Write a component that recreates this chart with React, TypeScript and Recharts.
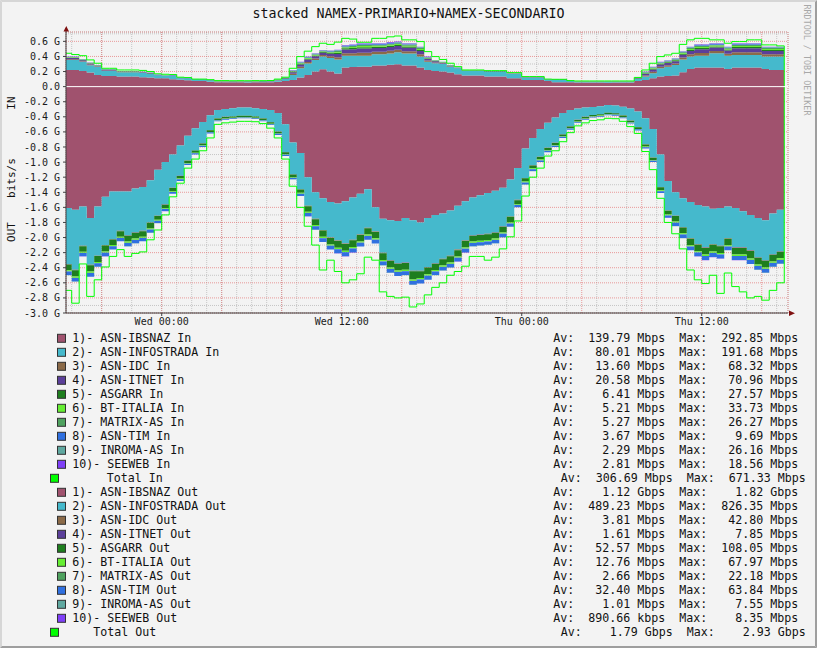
import React from 'react';
import { ComposedChart, Area, Line, XAxis, YAxis, CartesianGrid, ReferenceLine } from 'recharts';

// ---------- time axis (hours relative to Wed 00:00, 30-minute steps) ----------
const hours: number[] = Array.from({ length: 96 }, (_, i) => -6.5 + i * 0.5);
const endHour = 41.5;
const xDomain: [number, number] = [-6.38, 41.75];
const xLabelHours = [0, 12, 24, 36];
const xLabels = ['Wed 00:00', 'Wed 12:00', 'Thu 00:00', 'Thu 12:00'];
const xMajorHours = [-4, 0, 4, 8, 12, 16, 20, 24, 28, 32, 36, 40];
const xMinorHours = Array.from({ length: 48 }, (_, i) => i - 6);

// ---------- value axis (Mbps) ----------
const yDomain: [number, number] = [-3000, 724];
const yMajorTicks = [-3000, -2800, -2600, -2400, -2200, -2000, -1800, -1600, -1400, -1200, -1000, -800, -600, -400, -200, 0, 200, 400, 600];
const yMinorTicks = Array.from({ length: 38 }, (_, i) => -3000 + i * 100);

// ---------- series names / colours ----------
const seriesNames = ['ASN-IBSNAZ', 'ASN-INFOSTRADA', 'ASN-IDC', 'ASN-ITNET', 'ASGARR', 'BT-ITALIA', 'MATRIX-AS', 'ASN-TIM', 'INROMA-AS', 'SEEWEB'];
const seriesColors = ['#A0526E', '#45B9CC', '#8B6A48', '#5B3F9A', '#1E7E1E', '#66EE33', '#4FA25F', '#3070E0', '#5FA8A0', '#7F40F8'];
const totalColor = '#00FF00';

// ---------- IN values (Mbps) ----------
const inIbsnaz = [
  221, 221, 208, 186, 155, 142, 142, 133, 133, 133,
  125, 120, 110, 110, 97, 90, 84, 75, 75, 66,
  58, 58, 57, 58, 56, 57, 58, 59, 65, 75,
  88, 120, 155, 200, 230, 200, 175, 252, 260, 265,
  265, 279, 279, 290, 296, 279, 279, 252, 221, 208,
  200, 186, 164, 146, 146, 146, 133, 133, 133, 110,
  110, 88, 88, 88, 75, 58, 58, 58, 55, 55,
  54, 55, 53, 54, 55, 56, 75, 88, 110, 133,
  140, 146, 190, 235, 252, 252, 252, 252, 235, 252,
  252, 252, 252, 235, 221, 221,
];
const inInfostrada = [
  133, 133, 122, 99, 110, 66, 66, 57, 57, 57,
  60, 48, 40, 36, 43, 20, 26, 22, 22, 19,
  8, 8, 8, 8, 9, 9, 9, 9, 15, 25,
  67, 123, 150, 154, 168, 180, 185, 158, 150, 145,
  145, 151, 151, 150, 160, 159, 159, 146, 109, 102,
  100, 79, 79, 66, 66, 66, 67, 67, 67, 58,
  58, 32, 32, 32, 13, 30, 30, 17, 11, 11,
  12, 11, 13, 12, 11, 10, 25, 45, 67, 110,
  125, 142, 170, 163, 158, 158, 190, 190, 175, 168,
  168, 168, 168, 163, 177, 177,
];
const inIdc = [
  10, 10, 8, 8, 5, 6, 6, 4, 4, 4,
  3, 4, 2, 2, 2, 2, 2, 1, 1, 1,
  2, 2, 2, 2, 2, 2, 2, 2, 3, 5,
  15, 20, 22, 20, 20, 23, 30, 33, 34, 38,
  38, 33, 33, 34, 32, 31, 31, 30, 15, 10,
  7, 5, 2, 2, 2, 2, 2, 2, 2, 2,
  2, 3, 3, 3, 2, 2, 2, 1, 1, 1,
  1, 1, 1, 1, 1, 1, 5, 15, 20, 20,
  19, 20, 25, 30, 35, 35, 30, 30, 27, 35,
  35, 35, 35, 30, 30, 30,
];
const inItnet = [
  15, 15, 13, 12, 8, 9, 9, 6, 6, 6,
  5, 6, 4, 3, 4, 4, 4, 1, 1, 2,
  3, 3, 3, 3, 3, 3, 3, 3, 5, 7,
  22, 30, 33, 30, 31, 34, 44, 49, 52, 57,
  57, 50, 50, 52, 49, 47, 47, 45, 23, 15,
  10, 8, 3, 3, 3, 3, 3, 3, 3, 3,
  3, 4, 4, 4, 3, 3, 3, 2, 1, 1,
  1, 1, 1, 1, 1, 1, 7, 23, 30, 30,
  29, 30, 38, 45, 52, 52, 46, 46, 41, 53,
  53, 53, 53, 45, 45, 45,
];
const inAsgarr = [
  5, 5, 4, 4, 3, 3, 3, 2, 2, 2,
  2, 2, 1, 1, 1, 1, 1, 0, 0, 1,
  1, 1, 1, 1, 1, 1, 1, 1, 2, 2,
  7, 9, 10, 10, 10, 11, 14, 15, 16, 18,
  18, 16, 16, 16, 15, 15, 15, 14, 7, 5,
  3, 3, 1, 1, 1, 1, 1, 1, 1, 1,
  1, 2, 2, 2, 1, 1, 1, 1, 1, 1,
  1, 1, 1, 1, 1, 1, 2, 7, 10, 9,
  9, 10, 12, 14, 16, 16, 14, 14, 13, 17,
  17, 17, 17, 14, 14, 14,
];
const inBtItalia = [
  4, 4, 3, 3, 2, 3, 3, 2, 2, 2,
  1, 2, 1, 1, 1, 1, 1, 0, 0, 0,
  1, 1, 1, 1, 1, 1, 1, 1, 1, 2,
  6, 8, 8, 8, 8, 9, 11, 12, 13, 14,
  14, 13, 13, 13, 12, 12, 12, 12, 6, 4,
  3, 2, 1, 1, 1, 1, 1, 1, 1, 1,
  1, 1, 1, 1, 1, 1, 1, 0, 0, 0,
  0, 0, 0, 0, 0, 0, 2, 6, 8, 8,
  8, 8, 10, 12, 13, 13, 12, 12, 11, 14,
  14, 14, 14, 12, 12, 12,
];
const inMatrix = [
  4, 4, 3, 3, 2, 2, 2, 2, 2, 2,
  2, 2, 1, 1, 1, 1, 1, 1, 1, 1,
  1, 1, 1, 1, 1, 1, 1, 1, 2, 2,
  6, 8, 8, 8, 8, 9, 12, 13, 13, 14,
  14, 13, 13, 13, 12, 12, 12, 12, 6, 4,
  3, 2, 1, 1, 1, 1, 1, 1, 1, 1,
  1, 1, 1, 1, 1, 1, 1, 1, 1, 1,
  1, 1, 1, 1, 1, 1, 2, 6, 8, 8,
  8, 8, 10, 12, 14, 14, 12, 12, 11, 14,
  14, 14, 14, 12, 12, 12,
];
const inTim = [
  3, 3, 2, 2, 1, 2, 2, 1, 1, 1,
  1, 1, 1, 1, 1, 1, 1, 0, 0, 0,
  1, 1, 0, 0, 0, 1, 0, 0, 1, 1,
  4, 5, 6, 5, 5, 6, 8, 9, 9, 10,
  10, 9, 9, 9, 9, 8, 8, 8, 4, 3,
  2, 1, 1, 1, 1, 1, 0, 0, 0, 1,
  1, 1, 1, 1, 1, 1, 1, 0, 0, 0,
  0, 0, 0, 0, 0, 0, 1, 4, 5, 5,
  5, 5, 7, 8, 9, 9, 8, 8, 7, 9,
  9, 9, 9, 8, 8, 8,
];
const inInroma = [
  1, 1, 2, 1, 1, 1, 1, 0, 0, 0,
  0, 0, 0, 0, 0, 0, 0, 0, 0, 0,
  0, 0, 0, 0, 0, 0, 0, 0, 0, 0,
  2, 3, 4, 3, 3, 4, 5, 5, 6, 6,
  6, 5, 5, 6, 5, 5, 5, 5, 3, 1,
  1, 1, 0, 0, 0, 0, 0, 0, 0, 0,
  0, 0, 0, 0, 0, 0, 0, 0, 0, 0,
  0, 0, 0, 0, 0, 0, 0, 3, 3, 3,
  3, 3, 4, 5, 6, 6, 5, 5, 5, 6,
  6, 6, 6, 5, 5, 5,
];
const inSeeweb = [
  2, 2, 2, 2, 1, 1, 1, 1, 1, 1,
  1, 1, 0, 0, 0, 0, 0, 0, 0, 0,
  0, 0, 0, 0, 0, 0, 0, 0, 0, 1,
  3, 4, 4, 4, 4, 4, 6, 7, 7, 8,
  8, 6, 6, 7, 7, 7, 7, 6, 4, 2,
  1, 1, 0, 0, 0, 0, 0, 0, 0, 0,
  0, 1, 1, 1, 0, 0, 0, 0, 0, 0,
  0, 0, 0, 0, 0, 0, 1, 3, 4, 4,
  4, 4, 4, 6, 7, 7, 6, 6, 5, 7,
  7, 7, 7, 6, 6, 6,
];
const inTotal = [
  442, 425, 410, 354, 310, 243, 243, 221, 221, 221,
  215, 200, 170, 164, 160, 125, 120, 100, 100, 92,
  80, 80, 78, 79, 78, 80, 79, 81, 100, 125,
  243, 398, 470, 530, 575, 560, 590, 640, 630, 588,
  588, 640, 640, 660, 671, 620, 620, 597, 464, 398,
  360, 310, 265, 221, 221, 221, 212, 212, 212, 186,
  186, 133, 133, 133, 100, 97, 97, 80, 75, 75,
  75, 75, 75, 75, 75, 75, 122, 221, 310, 398,
  420, 442, 560, 620, 640, 640, 620, 620, 575, 597,
  597, 620, 620, 553, 553, 540,
];

// ---------- OUT values (Mbps, drawn downward) ----------
const outIbsnaz = [
  1610, 1630, 1590, 1740, 1590, 1460, 1390, 1390, 1390, 1350,
  1330, 1240, 1100, 1000, 900, 780, 650, 550, 470, 380,
  310, 295, 285, 275, 275, 285, 295, 310, 350, 500,
  740, 880, 1200, 1400, 1480, 1530, 1550, 1520, 1470, 1420,
  1360, 1600, 1750, 1770, 1780, 1740, 1770, 1800, 1740, 1700,
  1680, 1640, 1580, 1520, 1470, 1440, 1410, 1380, 1340, 1230,
  1080, 820, 680, 560, 480, 410, 350, 310, 290, 275,
  270, 260, 245, 250, 265, 290, 330, 420, 560, 900,
  1250, 1400, 1480, 1530, 1570, 1590, 1620, 1610, 1590, 1610,
  1650, 1700, 1740, 1770, 1680, 1630,
];
const outInfostrada = [
  740, 796, 520, 620, 650, 640, 630, 520, 580, 580,
  580, 560, 610, 560, 440, 400, 330, 295, 280, 195,
  110, 105, 110, 110, 110, 110, 125, 160, 245, 365,
  420, 480, 380, 350, 420, 470, 490, 560, 560, 540,
  510, 320, 450, 530, 560, 590, 670, 640, 650, 640,
  600, 600, 580, 520, 500, 520, 540, 550, 510, 490,
  420, 390, 360, 370, 330, 335, 280, 215, 150, 125,
  105, 105, 100, 100, 115, 160, 205, 345, 380, 430,
  390, 310, 380, 480, 520, 540, 470, 500, 420, 520,
  480, 470, 520, 530, 540, 550,
];
const outIdc = [
  4, 5, 4, 5, 4, 4, 4, 4, 4, 4,
  4, 4, 4, 3, 3, 2, 2, 2, 2, 2,
  1, 1, 1, 1, 1, 1, 1, 1, 2, 2,
  2, 3, 4, 4, 5, 5, 5, 5, 5, 5,
  5, 5, 5, 5, 5, 5, 5, 5, 5, 5,
  5, 5, 5, 5, 4, 4, 4, 4, 4, 4,
  4, 3, 3, 2, 2, 2, 2, 2, 1, 1,
  1, 1, 1, 1, 1, 1, 2, 2, 2, 3,
  4, 4, 4, 5, 5, 5, 5, 5, 5, 5,
  5, 5, 5, 5, 5, 5,
];
const outItnet = [
  2, 2, 1, 2, 2, 2, 1, 1, 2, 2,
  1, 1, 1, 1, 1, 1, 1, 1, 1, 1,
  1, 1, 1, 1, 1, 1, 1, 1, 1, 1,
  1, 1, 1, 2, 2, 2, 2, 2, 2, 2,
  2, 2, 2, 2, 2, 2, 2, 2, 2, 2,
  2, 2, 2, 2, 2, 2, 2, 2, 2, 1,
  1, 1, 1, 1, 1, 1, 1, 1, 1, 1,
  1, 1, 1, 1, 1, 1, 1, 1, 1, 1,
  1, 1, 2, 2, 2, 2, 2, 2, 2, 2,
  2, 2, 2, 2, 2, 2,
];
const outAsgarr = [
  78, 84, 74, 84, 78, 78, 74, 74, 78, 78,
  74, 74, 49, 44, 39, 34, 30, 27, 25, 22,
  20, 20, 17, 17, 17, 17, 20, 20, 22, 27,
  34, 44, 74, 78, 84, 84, 89, 89, 89, 84,
  84, 84, 89, 89, 89, 89, 108, 89, 89, 84,
  84, 84, 84, 84, 78, 78, 78, 78, 78, 74,
  49, 44, 39, 34, 30, 27, 25, 22, 20, 20,
  17, 17, 17, 17, 20, 20, 22, 27, 30, 39,
  49, 74, 78, 84, 84, 89, 89, 89, 84, 89,
  89, 100, 89, 89, 89, 89,
];
const outBtItalia = [
  14, 15, 13, 15, 14, 14, 13, 13, 14, 14,
  13, 13, 12, 11, 10, 9, 7, 6, 6, 5,
  5, 5, 4, 4, 4, 4, 5, 5, 5, 6,
  9, 11, 13, 14, 15, 15, 17, 17, 17, 15,
  15, 15, 17, 17, 17, 17, 17, 17, 17, 15,
  15, 15, 15, 15, 14, 14, 14, 14, 14, 13,
  12, 11, 10, 9, 7, 6, 6, 5, 5, 5,
  4, 4, 4, 4, 5, 5, 5, 6, 7, 10,
  12, 13, 14, 15, 15, 17, 17, 17, 15, 17,
  17, 17, 17, 17, 17, 17,
];
const outMatrix = [
  3, 3, 3, 3, 3, 3, 3, 3, 3, 3,
  3, 3, 2, 2, 2, 2, 1, 1, 1, 1,
  1, 1, 1, 1, 1, 1, 1, 1, 1, 1,
  2, 2, 3, 3, 3, 3, 3, 3, 3, 3,
  3, 3, 3, 3, 3, 3, 3, 3, 3, 3,
  3, 3, 3, 3, 3, 3, 3, 3, 3, 3,
  2, 2, 2, 2, 1, 1, 1, 1, 1, 1,
  1, 1, 1, 1, 1, 1, 1, 1, 1, 2,
  2, 3, 3, 3, 3, 3, 3, 3, 3, 3,
  3, 3, 3, 3, 3, 3,
];
const outTim = [
  46, 49, 43, 49, 46, 46, 43, 43, 46, 46,
  43, 43, 30, 27, 24, 21, 18, 17, 15, 14,
  12, 12, 11, 11, 11, 11, 12, 12, 14, 17,
  21, 27, 43, 46, 49, 49, 52, 52, 52, 49,
  49, 49, 52, 52, 52, 52, 52, 52, 52, 49,
  49, 49, 49, 49, 46, 46, 46, 46, 46, 43,
  30, 27, 24, 21, 18, 17, 15, 14, 12, 12,
  11, 11, 11, 11, 12, 12, 14, 17, 18, 24,
  30, 43, 46, 49, 49, 52, 52, 52, 49, 52,
  52, 52, 52, 52, 52, 52,
];
const outInroma = [
  2, 1, 1, 1, 2, 2, 1, 1, 2, 2,
  1, 1, 1, 1, 1, 1, 1, 1, 0, 0,
  0, 0, 0, 0, 0, 0, 0, 0, 0, 1,
  1, 1, 1, 2, 1, 1, 1, 1, 1, 1,
  1, 1, 1, 1, 1, 1, 1, 1, 1, 1,
  1, 1, 1, 1, 2, 2, 2, 2, 2, 1,
  1, 1, 1, 1, 1, 1, 0, 0, 0, 0,
  0, 0, 0, 0, 0, 0, 0, 1, 1, 1,
  1, 1, 2, 1, 1, 1, 1, 1, 1, 1,
  1, 1, 1, 1, 1, 1,
];
const outSeeweb = [
  1, 1, 1, 1, 1, 1, 1, 1, 1, 1,
  1, 1, 1, 1, 0, 0, 0, 0, 0, 0,
  0, 0, 0, 0, 0, 0, 0, 0, 0, 0,
  0, 1, 1, 1, 1, 1, 1, 1, 1, 1,
  1, 1, 1, 1, 1, 1, 1, 1, 1, 1,
  1, 1, 1, 1, 1, 1, 1, 1, 1, 1,
  1, 1, 0, 0, 0, 0, 0, 0, 0, 0,
  0, 0, 0, 0, 0, 0, 0, 0, 0, 0,
  1, 1, 1, 1, 1, 1, 1, 1, 1, 1,
  1, 1, 1, 1, 1, 1,
];
const outTotal = [
  2700, 2870, 2350, 2780, 2560, 2390, 2250, 2160, 2250, 2210,
  2190, 2030, 1900, 1700, 1460, 1280, 1080, 960, 850, 680,
  500, 480, 470, 460, 460, 465, 490, 550, 680, 960,
  1320, 1600, 1850, 2100, 2430, 2300, 2450, 2600, 2560, 2480,
  2260, 2300, 2720, 2780, 2800, 2790, 2920, 2880, 2760, 2660,
  2600, 2500, 2450, 2380, 2250, 2250, 2300, 2260, 2150, 1990,
  1780, 1450, 1200, 1080, 920, 850, 730, 610, 520, 480,
  450, 440, 420, 425, 460, 530, 620, 860, 1100, 1480,
  1800, 1950, 2150, 2430, 2560, 2610, 2500, 2740, 2470, 2650,
  2720, 2800, 2780, 2830, 2700, 2600,
];

// ---------- legend statistics (as printed) ----------
const inAvg = ['139.79', '80.01', '13.60', '20.58', '6.41', '5.21', '5.27', '3.67', '2.29', '2.81'];
const inMax = ['292.85', '191.68', '68.32', '70.96', '27.57', '33.73', '26.27', '9.69', '26.16', '18.56'];
const inTotalStats = { avg: '306.69', avgUnit: 'M', max: '671.33', maxUnit: 'M' };
const outAvg = ['1.12', '489.23', '3.81', '1.61', '52.57', '12.76', '2.66', '32.40', '1.01', '890.66'];
const outAvgUnit = ['G', 'M', 'M', 'M', 'M', 'M', 'M', 'M', 'M', 'k'];
const outMax = ['1.82', '826.35', '42.80', '7.85', '108.05', '67.97', '22.18', '63.84', '7.55', '8.35'];
const outMaxUnit = ['G', 'M', 'M', 'M', 'M', 'M', 'M', 'M', 'M', 'M'];
const outTotalStats = { avg: '1.79', avgUnit: 'G', max: '2.93', maxUnit: 'G' };

const inValues = [inIbsnaz, inInfostrada, inIdc, inItnet, inAsgarr, inBtItalia, inMatrix, inTim, inInroma, inSeeweb];
const outValues = [outIbsnaz, outInfostrada, outIdc, outItnet, outAsgarr, outBtItalia, outMatrix, outTim, outInroma, outSeeweb];

type Row = { [k: string]: number };
const table: Row[] = hours.map((t, i) => {
  const row: Row = { t, inT: inTotal[i], outT: -outTotal[i] };
  inValues.forEach((arr, k) => { row[`in${k}`] = arr[i]; });
  outValues.forEach((arr, k) => { row[`out${k}`] = -arr[i]; });
  return row;
});
{
  const last: Row = { t: endHour, inT: 0, outT: 0 };
  seriesNames.forEach((_, k) => { last[`in${k}`] = 0; last[`out${k}`] = 0; });
  table.push(last);
}

const MONO = "'DejaVu Sans Mono', monospace";
const fmtStats = (a: string, au: string, m: string, mu: string) =>
  `Av: ${a.padStart(7)} ${au}bps  Max: ${m.padStart(7)} ${mu}bps`;

const yFmt = (v: number) => (v === 0 ? '0.0' : `${(v / 1000).toFixed(1)} G`);

function Legend() {
  const rowY = (i: number) => 338.3 + i * 14;
  const rows: React.ReactNode[] = [];
  const addRow = (i: number, color: string, name: string, stats: string, isTotal: boolean, nameX: number) => {
    const y = rowY(i);
    rows.push(
      <g key={i}>
        <rect x={isTotal ? 50.5 : 57.5} y={y - 4} width={8} height={8} fill={color} stroke="#333" strokeWidth={1} />
        <text x={nameX} y={y} dominantBaseline="central" fontFamily={MONO} fontSize={11.63} fill="#111" style={{ whiteSpace: 'pre' }}>{name}</text>
        <text x={isTotal ? 560.7 : 553.3} y={y} dominantBaseline="central" fontFamily={MONO} fontSize={11.63} fill="#111" style={{ whiteSpace: 'pre' }}>{stats}</text>
      </g>
    );
  };
  seriesNames.forEach((n, k) => addRow(k, seriesColors[k], `${k + 1})- ${n} In`, fmtStats(inAvg[k], 'M', inMax[k], 'M'), false, 72.3));
  addRow(10, totalColor, 'Total In', fmtStats(inTotalStats.avg, inTotalStats.avgUnit, inTotalStats.max, inTotalStats.maxUnit), true, 106.7);
  seriesNames.forEach((n, k) => addRow(11 + k, seriesColors[k], `${k + 1})- ${n} Out`, fmtStats(outAvg[k], outAvgUnit[k], outMax[k], outMaxUnit[k]), false, 72.3));
  addRow(21, totalColor, 'Total Out', fmtStats(outTotalStats.avg, outTotalStats.avgUnit, outTotalStats.max, outTotalStats.maxUnit), true, 93.3);
  return <g>{rows}</g>;
}

export default function App() {
  return (
    <div style={{ position: 'absolute', left: 0, top: 0, width: 817, height: 648, background: '#F3F3F3', overflow: 'hidden' }}>
      <div style={{ position: 'absolute', left: 0, top: 0 }}>
        <ComposedChart width={817} height={333} data={table} margin={{ top: 32, right: 29, bottom: 0, left: 0 }}>
          <XAxis xAxisId="xm" dataKey="t" type="number" domain={xDomain} allowDataOverflow ticks={xMinorHours} hide />
          <XAxis xAxisId="xM" dataKey="t" type="number" domain={xDomain} allowDataOverflow ticks={xMajorHours} hide />
          <YAxis yAxisId="ym" type="number" domain={yDomain} allowDataOverflow ticks={yMinorTicks} hide />
          <CartesianGrid xAxisId="xm" yAxisId="ym" stroke="#8F8F8F" strokeOpacity={0.45} strokeDasharray="1 1" />
          <CartesianGrid xAxisId="xM" yAxisId="y" stroke="#E05050" strokeOpacity={0.55} strokeDasharray="1 1" />
          <XAxis
            xAxisId="x"
            dataKey="t"
            type="number"
            domain={xDomain}
            allowDataOverflow
            ticks={xLabelHours}
            tickFormatter={(v: number) => xLabels[xLabelHours.indexOf(v)] ?? ''}
            height={20}
            tickSize={3}
            tickMargin={2}
            axisLine={{ stroke: '#404040' }}
            tickLine={{ stroke: '#404040' }}
            tick={{ fill: '#1a1a1a', fontSize: 10, fontFamily: MONO }}
          />
          <YAxis
            yAxisId="y"
            type="number"
            domain={yDomain}
            allowDataOverflow
            ticks={yMajorTicks}
            tickFormatter={yFmt}
            width={66}
            tickSize={3}
            tickMargin={3}
            interval={0}
            axisLine={{ stroke: '#404040' }}
            tickLine={{ stroke: '#404040' }}
            tick={{ fill: '#1a1a1a', fontSize: 10, fontFamily: MONO }}
          />
          {seriesNames.map((n, k) => (
            <Area
              key={`in${k}`}
              xAxisId="x"
              yAxisId="y"
              dataKey={`in${k}`}
              name={`${n} In`}
              stackId="in"
              type="stepAfter"
              stroke="none"
              fill={seriesColors[k]}
              fillOpacity={1}
              isAnimationActive={false}
              dot={false}
              activeDot={false}
            />
          ))}
          {seriesNames.map((n, k) => (
            <Area
              key={`out${k}`}
              xAxisId="x"
              yAxisId="y"
              dataKey={`out${k}`}
              name={`${n} Out`}
              stackId="out"
              type="stepAfter"
              stroke="none"
              fill={seriesColors[k]}
              fillOpacity={1}
              isAnimationActive={false}
              dot={false}
              activeDot={false}
            />
          ))}
          <Line xAxisId="x" yAxisId="y" dataKey="inT" type="stepAfter" stroke={totalColor} strokeWidth={1} dot={false} activeDot={false} isAnimationActive={false} />
          <Line xAxisId="x" yAxisId="y" dataKey="outT" type="stepAfter" stroke={totalColor} strokeWidth={1} dot={false} activeDot={false} isAnimationActive={false} />
          <ReferenceLine xAxisId="x" yAxisId="y" y={0} stroke="#FFFFFF" strokeWidth={1} zIndex={450} />
        </ComposedChart>
      </div>
      <svg width={817} height={648} style={{ position: 'absolute', left: 0, top: 0, pointerEvents: 'none' }}>
        {/* frame shading */}
        <polygon points="0,0 817,0 815,2 2,2" fill="#D6D6D6" />
        <polygon points="0,0 2,2 2,646 0,648" fill="#D6D6D6" />
        <polygon points="0,648 2,646 815,646 817,648" fill="#9E9E9E" />
        <polygon points="817,0 817,648 815,646 815,2" fill="#9E9E9E" />
        {/* title */}
        <text x={408.5} y={13.5} textAnchor="middle" dominantBaseline="central" fontFamily={MONO} fontSize={13.3} fill="#111">
          stacked NAMEX-PRIMARIO+NAMEX-SECONDARIO
        </text>
        {/* vertical labels */}
        <text transform="translate(11,103) rotate(-90)" textAnchor="middle" dominantBaseline="central" fontFamily={MONO} fontSize={11} fill="#111">IN</text>
        <text transform="translate(11,178) rotate(-90)" textAnchor="middle" dominantBaseline="central" fontFamily={MONO} fontSize={11} fill="#111">bits/s</text>
        <text transform="translate(11,232) rotate(-90)" textAnchor="middle" dominantBaseline="central" fontFamily={MONO} fontSize={11} fill="#111">OUT</text>
        <text transform="translate(807,60) rotate(90)" textAnchor="middle" dominantBaseline="central" fontFamily={MONO} fontSize={8.4} fill="#A8A8A8" style={{ whiteSpace: 'pre' }}>RRDTOOL / TOBI OETIKER</text>
        {/* axis arrows */}
        <line x1={66} y1={28} x2={66} y2={32} stroke="#404040" />
        <polygon points="63.5,31.5 69,31.5 66.3,26" fill="#7F1010" />
        <polygon points="789,310.5 789,316 795,313.3" fill="#7F1010" />
        <Legend />
      </svg>
    </div>
  );
}
